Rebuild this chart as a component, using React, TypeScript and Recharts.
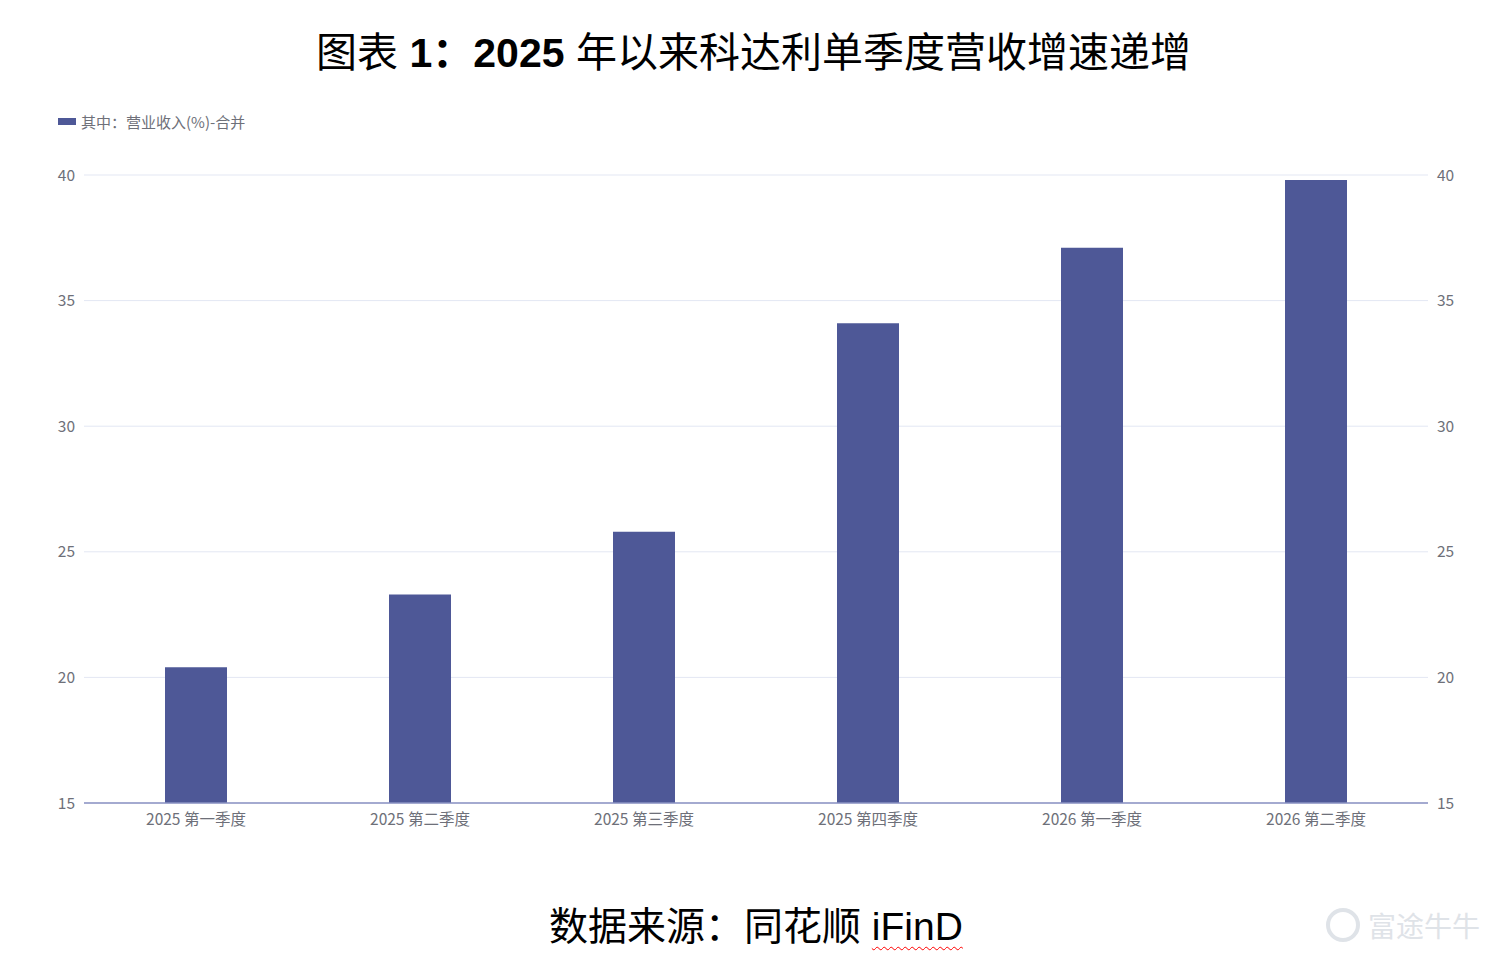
import { Bar, CartesianGrid, ComposedChart, Line, XAxis, YAxis } from 'recharts';

const categories = ['2025 第一季度', '2025 第二季度', '2025 第三季度', '2025 第四季度', '2026 第一季度', '2026 第二季度'];
const revenueGrowth = [20.4, 23.3, 25.8, 34.1, 37.1, 39.8];
const yTicks = [15, 20, 25, 30, 35, 40];
const seriesName = '其中：营业收入(%)-合并';

const data = categories.map((name, i) => ({ name, value: revenueGrowth[i] }));

const cjk = '"Liberation Sans", Arial, "Noto Sans CJK SC", sans-serif';
const uiFont = '"Noto Sans CJK SC", "Noto Sans", sans-serif';
const barColor = '#4e5897';

export default function App() {
  const tick = { fontSize: 15.5, fill: '#6e7079', fontFamily: uiFont };
  return (
    <div style={{ position: 'absolute', left: 0, top: 0, width: 1507, height: 963, background: '#fff', overflow: 'hidden' }}>
      <div
        style={{
          position: 'absolute',
          top: 19,
          width: '100%',
          textAlign: 'center',
          fontFamily: cjk,
          fontSize: 41,
          color: '#000',
        }}
      >
        图表 <b>1：2025</b> 年以来科达利单季度营收增速递增
      </div>

      <div
        style={{
          position: 'absolute',
          top: 111,
          left: 58,
          display: 'flex',
          alignItems: 'center',
          fontFamily: uiFont,
          fontSize: 15,
          color: '#6e7079',
          whiteSpace: 'nowrap',
        }}
      >
        <span style={{ display: 'inline-block', width: 18, height: 7, background: barColor, marginRight: 5 }} />
        {seriesName}
      </div>

      <div style={{ position: 'absolute', left: 0, top: 0 }}>
        <ComposedChart width={1507} height={843} data={data} margin={{ top: 175, right: 0, bottom: 0, left: 0 }}>
          <CartesianGrid vertical={false} stroke="#e3e7f3" yAxisId="left" />
          <XAxis
            dataKey="name"
            height={40}
            tick={tick}
            tickLine={false}
            axisLine={{ stroke: '#8a92c2', strokeWidth: 1.5 }}
            tickMargin={5}
            interval={0}
          />
          <YAxis
            yAxisId="left"
            width={84}
            domain={[15, 40]}
            ticks={yTicks}
            tick={tick}
            tickLine={false}
            axisLine={false}
            tickSize={0}
            tickMargin={9}
          />
          <YAxis
            yAxisId="right"
            orientation="right"
            width={79}
            domain={[15, 40]}
            ticks={yTicks}
            tick={tick}
            tickLine={false}
            axisLine={false}
            tickSize={0}
            tickMargin={9}
          />
          <Bar yAxisId="left" dataKey="value" name={seriesName} fill={barColor} barSize={62} isAnimationActive={false} />
          <Line
            yAxisId="right"
            dataKey="value"
            stroke="none"
            dot={false}
            activeDot={false}
            legendType="none"
            isAnimationActive={false}
          />
        </ComposedChart>
      </div>

      <div
        style={{
          position: 'absolute',
          top: 895,
          left: 549,
          fontFamily: cjk,
          fontSize: 39,
          color: '#000',
          whiteSpace: 'nowrap',
        }}
      >
        数据来源：同花顺{' '}
        <span style={{ textDecoration: 'underline wavy red', textDecorationThickness: 1, textUnderlineOffset: 6 }}>iFinD</span>
      </div>

      <div
        style={{
          position: 'absolute',
          top: 905,
          left: 1326,
          fontFamily: uiFont,
          fontSize: 28,
          color: '#dfe3e8',
          whiteSpace: 'nowrap',
          display: 'flex',
          alignItems: 'center',
        }}
      >
        <span
          style={{
            display: 'inline-block',
            width: 34,
            height: 34,
            borderRadius: '50%',
            border: '4px solid #dfe3e8',
            boxSizing: 'border-box',
            marginRight: 8,
          }}
        />
        富途牛牛
      </div>
    </div>
  );
}
